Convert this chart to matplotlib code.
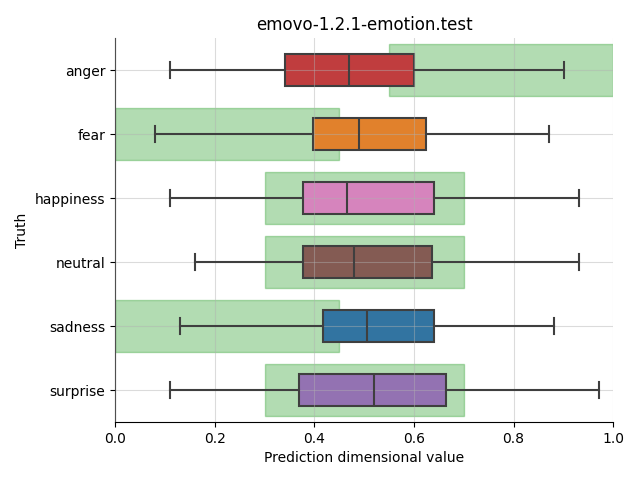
import matplotlib
matplotlib.use("Agg")
import matplotlib.pyplot as plt
import matplotlib.colors as mcolors
import colorsys

emotions = ["anger", "fear", "happiness", "neutral", "sadness", "surprise"]
whislo = [0.110, 0.080, 0.110, 0.161, 0.130, 0.110]
q1 = [0.341, 0.398, 0.378, 0.377, 0.417, 0.369]
med = [0.470, 0.490, 0.466, 0.480, 0.506, 0.520]
q3 = [0.600, 0.625, 0.641, 0.636, 0.641, 0.665]
whishi = [0.902, 0.871, 0.932, 0.932, 0.881, 0.972]

# expected range for each emotion (green band)
band_lo = [0.55, 0.0, 0.3, 0.3, 0.0, 0.3]
band_hi = [1.0, 0.45, 0.7, 0.7, 0.45, 0.7]

base_colors = ["tab:red", "tab:orange", "tab:pink", "tab:brown", "tab:blue", "tab:purple"]


def desaturate(c, prop=0.75):
    r, g, b = mcolors.to_rgb(c)
    h, l, s = colorsys.rgb_to_hls(r, g, b)
    return colorsys.hls_to_rgb(h, l, s * prop)


fig = plt.figure(figsize=(6.4, 4.8), dpi=100)
ax = fig.add_axes([0.18, 0.1208, 0.778, 0.8])

pos = list(range(len(emotions)))
ax.barh(pos, [h - l for l, h in zip(band_lo, band_hi)], left=band_lo, height=0.8,
        color="tab:green", alpha=0.36, edgecolor="tab:green", linewidth=1, zorder=1)

stats = []
for i in pos:
    stats.append(dict(whislo=whislo[i], q1=q1[i], med=med[i], q3=q3[i],
                      whishi=whishi[i], fliers=[]))

edge = "#3f3f3f"
bp = ax.bxp(stats, positions=pos, vert=False, widths=0.5, patch_artist=True,
            showfliers=False,
            boxprops=dict(edgecolor=edge, linewidth=1.5),
            medianprops=dict(color=edge, linewidth=1.5),
            whiskerprops=dict(color=edge, linewidth=1.5),
            capprops=dict(color=edge, linewidth=1.5))
for patch, c in zip(bp["boxes"], base_colors):
    patch.set_facecolor(desaturate(c))
    patch.set_zorder(2)
for k in ["whiskers", "caps", "medians"]:
    for ln in bp[k]:
        ln.set_zorder(3)

ax.set_xlim(0, 1)
ax.set_ylim(5.5, -0.5)
ax.set_yticks(pos)
ax.set_yticklabels(emotions)
ax.set_axisbelow(False)
ax.grid(True, color="#b0b0b0", alpha=0.45, linewidth=0.8, zorder=4)
for s in ["top", "right"]:
    ax.spines[s].set_visible(False)

ax.set_xlabel("Prediction dimensional value")
ax.set_ylabel("Truth")
ax.set_title("emovo-1.2.1-emotion.test")

fig.savefig("out.png", dpi=100)
